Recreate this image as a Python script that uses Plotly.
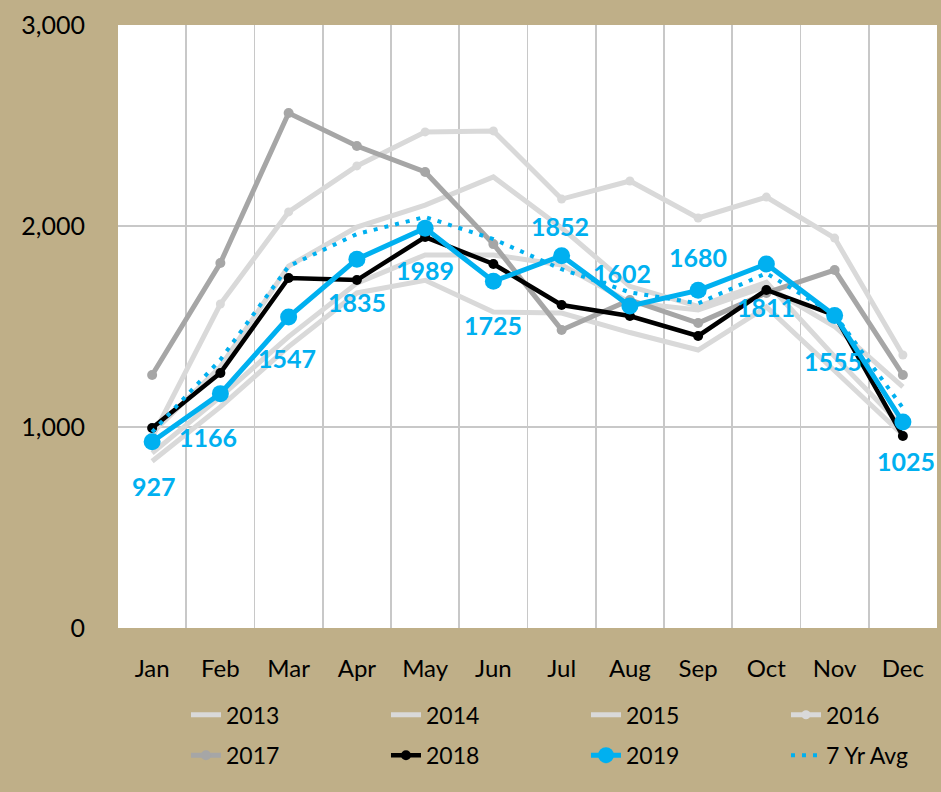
import plotly.graph_objects as go

months = ["Jan", "Feb", "Mar", "Apr", "May", "Jun", "Jul", "Aug", "Sep", "Oct", "Nov", "Dec"]
y2013 = [830, 1100, 1400, 1667, 1730, 1572, 1567, 1470, 1383, 1597, 1280, 960]
y2014 = [870, 1150, 1450, 1716, 1856, 1856, 1806, 1620, 1582, 1700, 1500, 1200]
y2015 = [970, 1300, 1800, 1995, 2104, 2244, 1990, 1700, 1600, 1720, 1350, 1000]
y2016 = [950, 1612, 2070, 2299, 2468, 2473, 2134, 2224, 2040, 2144, 1940, 1358]
y2017 = [1259, 1816, 2562, 2398, 2269, 1910, 1483, 1632, 1517, 1667, 1781, 1259]
y2018 = [995, 1269, 1741, 1731, 1945, 1811, 1607, 1552, 1453, 1682, 1557, 955]
y2019 = [927, 1166, 1547, 1835, 1989, 1725, 1852, 1602, 1680, 1811, 1555, 1025]
avg7 = [975, 1335, 1800, 1960, 2045, 1935, 1785, 1670, 1615, 1765, 1560, 1095]

# label offsets (style) for the 2019 data labels
label_shift = [(2, -44), (-12, -43), (-2, -41), (0, -43), (0, -42), (0, -44),
               (-2, 30), (-8, 33), (0, 33), (0, -43), (-2, -46), (3, -39)]

FONT = "Lato"
LIGHT = "#D9D9D9"
GRAY17 = "#A6A6A6"
BLUE = "#00B0F0"
BG = "#BFAF88"
xs = list(range(len(months)))

fig = go.Figure()

def add(name, ys, color, width, msize=0, dash="solid", rank=1000, legend="legend"):
    mode = "lines+markers" if msize else "lines"
    fig.add_trace(go.Scatter(
        x=xs, y=ys, name=name, mode=mode,
        line=dict(color=color, width=width, dash=dash),
        marker=dict(color=color, size=msize) if msize else None,
        legendrank=rank, legend=legend,
        hoverinfo="skip",
    ))

add("2013", y2013, LIGHT, 5, rank=1)
add("2014", y2014, LIGHT, 5, rank=2)
add("2015", y2015, LIGHT, 5, rank=3)
add("2016", y2016, LIGHT, 5, msize=9, rank=4)
add("2017", y2017, GRAY17, 5, msize=10, rank=5, legend="legend2")
add("2018", y2018, "black", 4.5, msize=10, rank=6, legend="legend2")
add("7 Yr Avg", avg7, BLUE, 4, dash="4px,7px", rank=8, legend="legend2")
add("2019", y2019, BLUE, 5, msize=17, rank=7, legend="legend2")

for i, v in enumerate(y2019):
    dx, dy = label_shift[i]
    fig.add_annotation(x=xs[i], y=v, text=str(v), showarrow=False,
                       xshift=dx, yshift=dy,
                       font=dict(family=FONT, size=25, color=BLUE, weight="bold"))

grid = "#C8C8C8"
leg_common = dict(orientation="h", xanchor="left", yanchor="middle",
                  entrywidth=155, entrywidthmode="pixels",
                  font=dict(family=FONT, size=23, color="black"),
                  bgcolor="rgba(0,0,0,0)")
fig.update_layout(
    width=941, height=792,
    paper_bgcolor=BG,
    plot_bgcolor="white",
    margin=dict(l=118, r=4, t=25, b=164, autoexpand=False),
    font=dict(family=FONT, size=24, color="black"),
    showlegend=True,
    legend=dict(x=0.083, y=-0.144, **leg_common),
    legend2=dict(x=0.083, y=-0.211, **leg_common),
    xaxis=dict(range=[-0.5, 11.5], tickmode="array", tickvals=xs, ticktext=months,
               showgrid=False, zeroline=False, showline=False, ticks="",
               ticklabelstandoff=24,
               minor=dict(tickmode="array", tickvals=[i - 0.5 for i in range(13)],
                          showgrid=True, gridcolor=grid, gridwidth=1.6, ticks=""),
               fixedrange=True),
    yaxis=dict(range=[0, 3000], tickmode="array", tickvals=[0, 1000, 2000, 3000],
               tickformat=",", showgrid=True, gridcolor=grid, gridwidth=1.6,
               zeroline=False, showline=False, ticks="", ticklabelstandoff=32,
               tickfont=dict(size=25), fixedrange=True),
)

fig.write_html(
    "out.html",
    config={"displayModeBar": False, "staticPlot": True},
    post_script=("document.body.style.margin='0';"
                 "document.body.style.overflow='hidden';"
                 "document.body.style.background='" + BG + "';"),
)
